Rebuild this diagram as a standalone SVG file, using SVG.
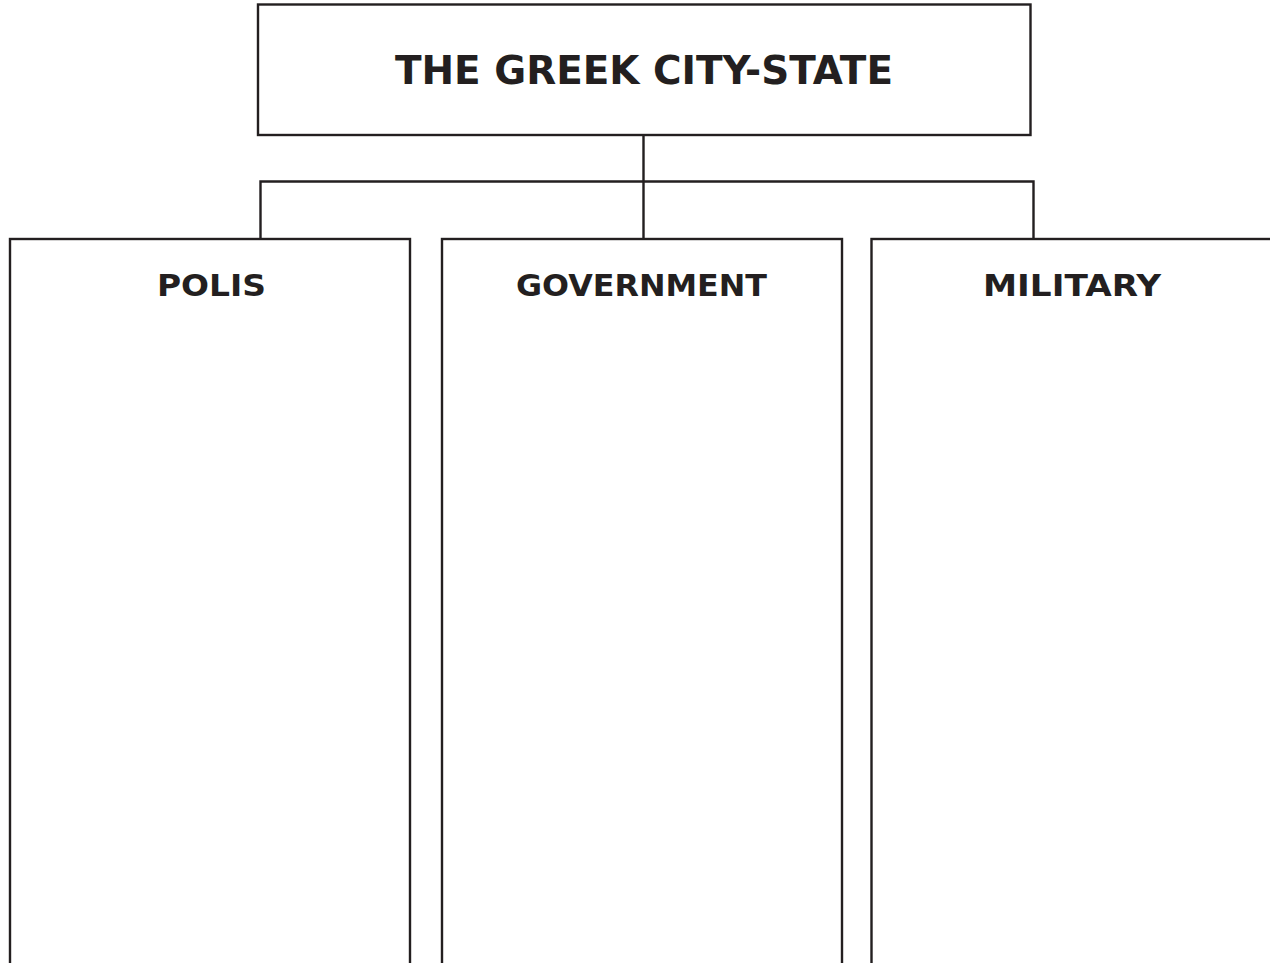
<svg xmlns="http://www.w3.org/2000/svg" width="1270" height="963" viewBox="0 0 1270 963">
<style>
.box{fill:#fff;stroke:#231f20;stroke-width:2.4}
.ln{fill:none;stroke:#231f20;stroke-width:2.4}
.t{font-family:"DejaVu Sans",Verdana,sans-serif;font-weight:bold;fill:#231f20;text-anchor:middle}
</style>
<rect width="1270" height="963" fill="#fff"/>
<g id="connectors">
<path class="ln" d="M643.5 135V239M260.5 239V181.5H1033.5V239"/>
</g>
<g id="title">
<rect class="box" x="258" y="4.5" width="772.5" height="130.5"/>
<text class="t" x="644" y="84" font-size="38.5" textLength="498" lengthAdjust="spacingAndGlyphs">THE GREEK CITY-STATE</text>
</g>
<g id="polis">
<rect class="box" x="10" y="239" width="400" height="740"/>
<text class="t" x="211.5" y="296" font-size="31" textLength="109" lengthAdjust="spacingAndGlyphs">POLIS</text>
</g>
<g id="government">
<rect class="box" x="442" y="239" width="400" height="740"/>
<text class="t" x="641.5" y="296" font-size="31" textLength="251" lengthAdjust="spacingAndGlyphs">GOVERNMENT</text>
</g>
<g id="military">
<rect class="box" x="871.5" y="239" width="420" height="740"/>
<text class="t" x="1072" y="296" font-size="31" textLength="178" lengthAdjust="spacingAndGlyphs">MILITARY</text>
</g>
</svg>
